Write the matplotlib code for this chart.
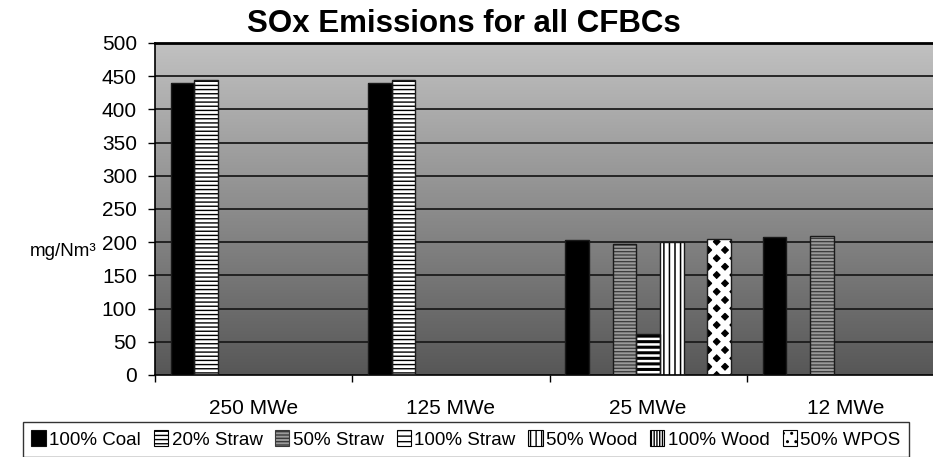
import numpy as np
import matplotlib
matplotlib.use("Agg")
import matplotlib.pyplot as plt
from matplotlib.patches import Patch

plt.rcParams["font.family"] = ["Liberation Sans", "DejaVu Sans"]

categories = ["250 MWe", "125 MWe", "25 MWe", "12 MWe"]
series_names = ["100% Coal", "20% Straw", "50% Straw", "100% Straw",
                "50% Wood", "100% Wood", "50% WPOS"]
nan = np.nan
coal_100 = [440, 440, 203, 208]
straw_20 = [445, 445, nan, nan]
straw_50 = [nan, nan, 198, 209]
straw_100 = [nan, nan, 62, nan]
wood_50 = [nan, nan, 200, nan]
wood_100 = [nan, nan, nan, nan]
wpos_50 = [nan, nan, 205, nan]
series_values = [coal_100, straw_20, straw_50, straw_100, wood_50, wood_100, wpos_50]
y_ticks = [0, 50, 100, 150, 200, 250, 300, 350, 400, 450, 500]

# fill styles per series: (face, edge/hatch colour, hatch, hatch linewidth)
styles = [
    ("black", "#111111", None, 1.0),
    ("white", "black", "----", 1.0),
    ("#9a9a9a", "#3a3a3a", "-----", 0.9),
    ("white", "black", "---", 2.2),
    ("white", "black", "|||", 1.1),
    ("white", "black", "||||||", 1.4),
    ("black", "white", "xx", 4.2),
]

W, H = 933, 457
fig = plt.figure(figsize=(W / 100, H / 100), dpi=100)
ax_left, ax_right, ax_top, ax_bottom = 155, 944, 43, 375
ax = fig.add_axes([ax_left / W, 1 - ax_bottom / H,
                   (ax_right - ax_left) / W, (ax_bottom - ax_top) / H])

n_cat = len(categories)

# grey gradient plot area: dark at the bottom, light at the top
grad = np.linspace(0, 1, 256).reshape(-1, 1)
cmap = matplotlib.colors.LinearSegmentedColormap.from_list("bg", ["#575757", "#c1c1c1"])
ax.imshow(grad, cmap=cmap, aspect="auto", extent=[-0.5, n_cat - 0.5, 0, 500],
          origin="lower", zorder=0, interpolation="bilinear")
ax.set_xlim(-0.5, n_cat - 0.5)
ax.set_ylim(0, 500)

for yv in y_ticks[1:]:
    ax.axhline(yv, color="#1c1c1c", lw=1.3, zorder=1)

bar_w = 0.12
x = np.arange(n_cat)
n_ser = len(series_names)
handles = []
for j, (name, vals) in enumerate(zip(series_names, series_values)):
    face, edge, hatch, hlw = styles[j]
    offs = x + (j - (n_ser - 1) / 2) * bar_w
    with plt.rc_context({"hatch.linewidth": hlw}):
        bars = ax.bar(offs, vals, width=bar_w, facecolor=face, edgecolor=edge,
                      hatch=hatch, linewidth=0, zorder=2)
        for b in bars:
            if hasattr(b, "set_hatch_linewidth"):
                b.set_hatch_linewidth(hlw)
        ax.bar(offs, vals, width=bar_w, fill=False, edgecolor="#1a1a1a",
               linewidth=1.0, zorder=3)
    if j == n_ser - 1:
        h = Patch(facecolor="white", edgecolor="black", hatch="..", linewidth=0.8)
    else:
        h = Patch(facecolor=face, edgecolor=edge, hatch=hatch, linewidth=0.8)
        if hasattr(h, "set_hatch_linewidth"):
            h.set_hatch_linewidth(min(hlw, 1.2))
    handles.append(h)

# axes and ticks
ax.spines["right"].set_visible(False)
ax.spines["top"].set_linewidth(2.0)
ax.spines["left"].set_linewidth(1.2)
ax.spines["bottom"].set_linewidth(1.2)
ax.set_yticks(y_ticks)
ax.set_yticklabels([str(v) for v in y_ticks])
ax.tick_params(axis="y", direction="out", length=5, width=1, pad=8, labelsize=15)
ax.set_xticks(x)
ax.set_xticklabels(categories)
ax.tick_params(axis="x", which="major", length=0, pad=17, labelsize=15)
ax.set_xticks(np.arange(-0.5, n_cat, 1.0), minor=True)
ax.tick_params(axis="x", which="minor", direction="out", length=5, width=1)

fig.text(30 / W, 1 - 251 / H, "mg/Nm³", fontsize=13.5, ha="left", va="center")
fig.text(464 / W, 1 - 24 / H, "SOx Emissions for all CFBCs", fontsize=22.5,
         fontweight="bold", ha="center", va="center")

leg = fig.legend(handles, series_names, loc="upper left", ncol=7,
                 bbox_to_anchor=(23 / W, 1 - 422 / H), frameon=True,
                 fancybox=False, edgecolor="black", fontsize=13.5,
                 handlelength=0.75, handleheight=0.9, handletextpad=0.2,
                 columnspacing=0.68, borderpad=0.45, borderaxespad=0)
leg.get_frame().set_linewidth(1.0)

fig.savefig("out.png", dpi=100)
